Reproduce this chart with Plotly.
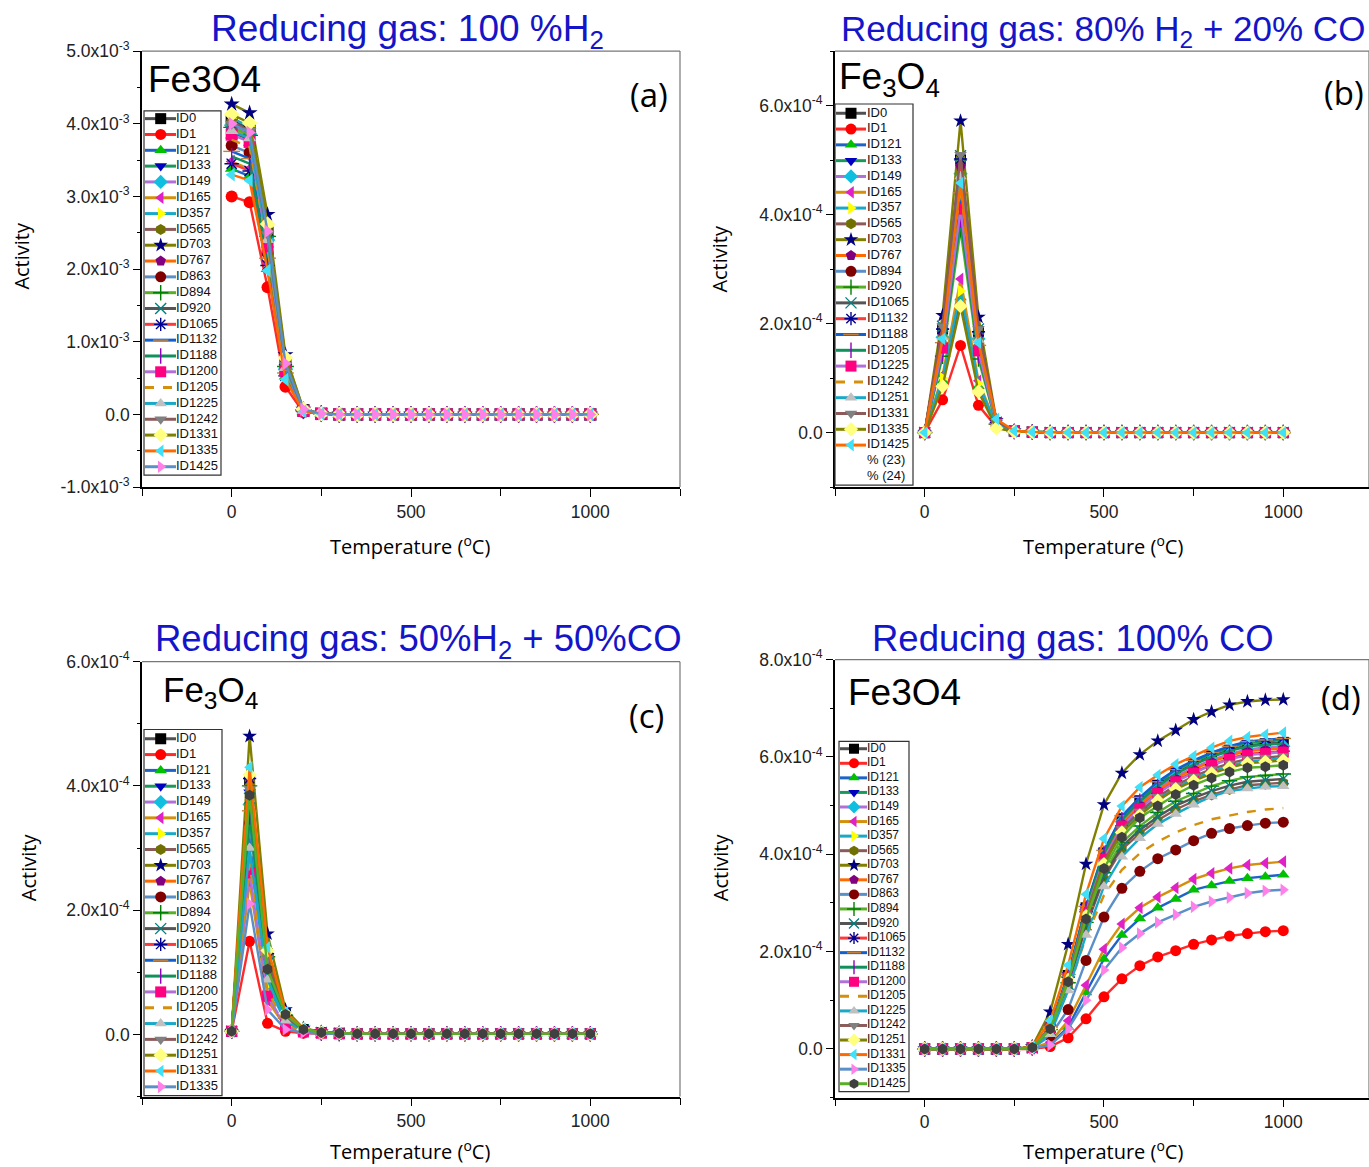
import plotly.graph_objects as go

W, H = 1369, 1167

# ---------------- data ----------------
TEMPERATURE_C = [0, 50, 100, 150, 200, 250, 300, 350, 400, 450, 500,
                 550, 600, 650, 700, 750, 800, 850, 900, 950, 1000]

NAMES_A = ["ID0", "ID1", "ID121", "ID133", "ID149", "ID165", "ID357", "ID565", "ID703",
           "ID767", "ID863", "ID894", "ID920", "ID1065", "ID1132", "ID1188", "ID1200",
           "ID1205", "ID1225", "ID1242", "ID1331", "ID1335", "ID1425"]
NAMES_B = ["ID0", "ID1", "ID121", "ID133", "ID149", "ID165", "ID357", "ID565", "ID703",
           "ID767", "ID894", "ID920", "ID1065", "ID1132", "ID1188", "ID1205", "ID1225",
           "ID1242", "ID1251", "ID1331", "ID1335", "ID1425"]
LEGEND_EXTRA_B = ["% (23)", "% (24)"]
NAMES_C = ["ID0", "ID1", "ID121", "ID133", "ID149", "ID165", "ID357", "ID565", "ID703",
           "ID767", "ID863", "ID894", "ID920", "ID1065", "ID1132", "ID1188", "ID1200",
           "ID1205", "ID1225", "ID1242", "ID1251", "ID1331", "ID1335", "ID1425"]
LEGEND_COUNT_C = 23
NAMES_D = ["ID0", "ID1", "ID121", "ID133", "ID149", "ID165", "ID357", "ID565", "ID703",
           "ID767", "ID863", "ID894", "ID920", "ID1065", "ID1132", "ID1188", "ID1200",
           "ID1205", "ID1225", "ID1242", "ID1251", "ID1331", "ID1335", "ID1425"]

# (a) 100% H2, activity in units of 1e-3
ACTIVITY_A_E3 = [
    [4.05, 3.93, 2.50, 0.68, 0.06, 0.01, 0, 0, 0, 0, 0, 0, 0, 0, 0, 0, 0, 0, 0, 0, 0],
    [3.00, 2.92, 1.75, 0.38, 0.03, 0.01, 0, 0, 0, 0, 0, 0, 0, 0, 0, 0, 0, 0, 0, 0, 0],
    [3.38, 3.28, 2.00, 0.52, 0.04, 0.01, 0, 0, 0, 0, 0, 0, 0, 0, 0, 0, 0, 0, 0, 0, 0],
    [3.95, 3.85, 2.42, 0.65, 0.05, 0.01, 0, 0, 0, 0, 0, 0, 0, 0, 0, 0, 0, 0, 0, 0, 0],
    [3.98, 3.86, 2.40, 0.62, 0.05, 0.01, 0, 0, 0, 0, 0, 0, 0, 0, 0, 0, 0, 0, 0, 0, 0],
    [3.48, 3.38, 2.08, 0.55, 0.05, 0.01, 0, 0, 0, 0, 0, 0, 0, 0, 0, 0, 0, 0, 0, 0, 0],
    [4.08, 3.96, 2.58, 0.74, 0.06, 0.01, 0, 0, 0, 0, 0, 0, 0, 0, 0, 0, 0, 0, 0, 0, 0],
    [4.02, 3.91, 2.52, 0.70, 0.06, 0.01, 0, 0, 0, 0, 0, 0, 0, 0, 0, 0, 0, 0, 0, 0, 0],
    [4.27, 4.15, 2.75, 0.82, 0.07, 0.01, 0, 0, 0, 0, 0, 0, 0, 0, 0, 0, 0, 0, 0, 0, 0],
    [3.92, 3.80, 2.35, 0.60, 0.05, 0.01, 0, 0, 0, 0, 0, 0, 0, 0, 0, 0, 0, 0, 0, 0, 0],
    [3.70, 3.60, 2.22, 0.58, 0.05, 0.01, 0, 0, 0, 0, 0, 0, 0, 0, 0, 0, 0, 0, 0, 0, 0],
    [3.95, 3.84, 2.45, 0.66, 0.06, 0.01, 0, 0, 0, 0, 0, 0, 0, 0, 0, 0, 0, 0, 0, 0, 0],
    [3.88, 3.78, 2.38, 0.63, 0.05, 0.01, 0, 0, 0, 0, 0, 0, 0, 0, 0, 0, 0, 0, 0, 0, 0],
    [3.45, 3.35, 2.05, 0.53, 0.04, 0.01, 0, 0, 0, 0, 0, 0, 0, 0, 0, 0, 0, 0, 0, 0, 0],
    [3.62, 3.52, 2.15, 0.57, 0.05, 0.01, 0, 0, 0, 0, 0, 0, 0, 0, 0, 0, 0, 0, 0, 0, 0],
    [3.55, 3.45, 2.12, 0.55, 0.05, 0.01, 0, 0, 0, 0, 0, 0, 0, 0, 0, 0, 0, 0, 0, 0, 0],
    [3.85, 3.75, 2.30, 0.60, 0.05, 0.01, 0, 0, 0, 0, 0, 0, 0, 0, 0, 0, 0, 0, 0, 0, 0],
    [3.78, 3.68, 2.28, 0.60, 0.05, 0.01, 0, 0, 0, 0, 0, 0, 0, 0, 0, 0, 0, 0, 0, 0, 0],
    [3.90, 3.80, 2.40, 0.64, 0.05, 0.01, 0, 0, 0, 0, 0, 0, 0, 0, 0, 0, 0, 0, 0, 0, 0],
    [4.00, 3.90, 2.48, 0.68, 0.06, 0.01, 0, 0, 0, 0, 0, 0, 0, 0, 0, 0, 0, 0, 0, 0, 0],
    [4.13, 4.01, 2.62, 0.78, 0.07, 0.01, 0, 0, 0, 0, 0, 0, 0, 0, 0, 0, 0, 0, 0, 0, 0],
    [3.30, 3.22, 1.98, 0.48, 0.04, 0.01, 0, 0, 0, 0, 0, 0, 0, 0, 0, 0, 0, 0, 0, 0, 0],
    [4.00, 3.88, 2.52, 0.70, 0.07, 0.01, 0, 0, 0, 0, 0, 0, 0, 0, 0, 0, 0, 0, 0, 0, 0],
]

# (b) 80% H2 + 20% CO, activity in units of 1e-4
ACTIVITY_B_E4 = [
    [0, 1.90, 5.00, 1.85, 0.18, 0.03, 0.01, 0, 0, 0, 0, 0, 0, 0, 0, 0, 0, 0, 0, 0, 0],
    [0, 0.60, 1.60, 0.50, 0.10, 0.02, 0.01, 0, 0, 0, 0, 0, 0, 0, 0, 0, 0, 0, 0, 0, 0],
    [0, 0.95, 2.48, 0.85, 0.12, 0.02, 0.01, 0, 0, 0, 0, 0, 0, 0, 0, 0, 0, 0, 0, 0, 0],
    [0, 1.85, 4.95, 1.80, 0.18, 0.03, 0.01, 0, 0, 0, 0, 0, 0, 0, 0, 0, 0, 0, 0, 0, 0],
    [0, 1.75, 4.75, 1.72, 0.17, 0.03, 0.01, 0, 0, 0, 0, 0, 0, 0, 0, 0, 0, 0, 0, 0, 0],
    [0, 1.05, 2.82, 0.95, 0.13, 0.02, 0.01, 0, 0, 0, 0, 0, 0, 0, 0, 0, 0, 0, 0, 0, 0],
    [0, 1.00, 2.60, 0.90, 0.12, 0.02, 0.01, 0, 0, 0, 0, 0, 0, 0, 0, 0, 0, 0, 0, 0, 0],
    [0, 1.88, 5.00, 1.85, 0.18, 0.03, 0.01, 0, 0, 0, 0, 0, 0, 0, 0, 0, 0, 0, 0, 0, 0],
    [0, 2.15, 5.72, 2.12, 0.22, 0.03, 0.01, 0, 0, 0, 0, 0, 0, 0, 0, 0, 0, 0, 0, 0, 0],
    [0, 1.82, 4.88, 1.78, 0.18, 0.03, 0.01, 0, 0, 0, 0, 0, 0, 0, 0, 0, 0, 0, 0, 0, 0],
    [0, 1.60, 4.30, 1.55, 0.16, 0.03, 0.01, 0, 0, 0, 0, 0, 0, 0, 0, 0, 0, 0, 0, 0, 0],
    [0, 1.40, 3.72, 1.35, 0.15, 0.02, 0.01, 0, 0, 0, 0, 0, 0, 0, 0, 0, 0, 0, 0, 0, 0],
    [0, 1.95, 5.08, 1.90, 0.19, 0.03, 0.01, 0, 0, 0, 0, 0, 0, 0, 0, 0, 0, 0, 0, 0, 0],
    [0, 1.90, 5.02, 1.85, 0.18, 0.03, 0.01, 0, 0, 0, 0, 0, 0, 0, 0, 0, 0, 0, 0, 0, 0],
    [0, 1.65, 4.40, 1.60, 0.16, 0.03, 0.01, 0, 0, 0, 0, 0, 0, 0, 0, 0, 0, 0, 0, 0, 0],
    [0, 1.45, 3.90, 1.42, 0.15, 0.02, 0.01, 0, 0, 0, 0, 0, 0, 0, 0, 0, 0, 0, 0, 0, 0],
    [0, 1.55, 4.10, 1.50, 0.16, 0.03, 0.01, 0, 0, 0, 0, 0, 0, 0, 0, 0, 0, 0, 0, 0, 0],
    [0, 1.70, 4.50, 1.65, 0.17, 0.03, 0.01, 0, 0, 0, 0, 0, 0, 0, 0, 0, 0, 0, 0, 0, 0],
    [0, 1.75, 4.70, 1.70, 0.17, 0.03, 0.01, 0, 0, 0, 0, 0, 0, 0, 0, 0, 0, 0, 0, 0, 0],
    [0, 1.95, 5.10, 1.90, 0.20, 0.03, 0.01, 0, 0, 0, 0, 0, 0, 0, 0, 0, 0, 0, 0, 0, 0],
    [0, 0.85, 2.32, 0.75, 0.08, 0.02, 0.01, 0, 0, 0, 0, 0, 0, 0, 0, 0, 0, 0, 0, 0, 0],
    [0, 1.72, 4.58, 1.65, 0.25, 0.03, 0.01, 0, 0, 0, 0, 0, 0, 0, 0, 0, 0, 0, 0, 0, 0],
]

# (c) 50% H2 + 50% CO, activity in units of 1e-4
ACTIVITY_C_E4 = [
    [0.05, 4.10, 1.30, 0.32, 0.08, 0.03, 0.02, 0.01, 0.01, 0.01, 0.01, 0.01, 0.01, 0.01, 0.01, 0.01, 0.01, 0.01, 0.01, 0.01, 0.01],
    [0.05, 1.50, 0.18, 0.05, 0.02, 0.01, 0.01, 0.01, 0.01, 0.01, 0.01, 0.01, 0.01, 0.01, 0.01, 0.01, 0.01, 0.01, 0.01, 0.01, 0.01],
    [0.05, 3.20, 0.90, 0.22, 0.06, 0.02, 0.01, 0.01, 0.01, 0.01, 0.01, 0.01, 0.01, 0.01, 0.01, 0.01, 0.01, 0.01, 0.01, 0.01, 0.01],
    [0.05, 3.90, 1.20, 0.30, 0.07, 0.03, 0.02, 0.01, 0.01, 0.01, 0.01, 0.01, 0.01, 0.01, 0.01, 0.01, 0.01, 0.01, 0.01, 0.01, 0.01],
    [0.05, 3.70, 1.10, 0.28, 0.07, 0.03, 0.02, 0.01, 0.01, 0.01, 0.01, 0.01, 0.01, 0.01, 0.01, 0.01, 0.01, 0.01, 0.01, 0.01, 0.01],
    [0.05, 2.45, 0.55, 0.12, 0.04, 0.02, 0.01, 0.01, 0.01, 0.01, 0.01, 0.01, 0.01, 0.01, 0.01, 0.01, 0.01, 0.01, 0.01, 0.01, 0.01],
    [0.05, 2.90, 0.80, 0.20, 0.05, 0.02, 0.01, 0.01, 0.01, 0.01, 0.01, 0.01, 0.01, 0.01, 0.01, 0.01, 0.01, 0.01, 0.01, 0.01, 0.01],
    [0.05, 4.05, 1.28, 0.32, 0.08, 0.03, 0.02, 0.01, 0.01, 0.01, 0.01, 0.01, 0.01, 0.01, 0.01, 0.01, 0.01, 0.01, 0.01, 0.01, 0.01],
    [0.05, 4.80, 1.62, 0.40, 0.10, 0.04, 0.02, 0.01, 0.01, 0.01, 0.01, 0.01, 0.01, 0.01, 0.01, 0.01, 0.01, 0.01, 0.01, 0.01, 0.01],
    [0.05, 4.15, 1.32, 0.33, 0.08, 0.03, 0.02, 0.01, 0.01, 0.01, 0.01, 0.01, 0.01, 0.01, 0.01, 0.01, 0.01, 0.01, 0.01, 0.01, 0.01],
    [0.05, 3.40, 0.98, 0.24, 0.06, 0.02, 0.01, 0.01, 0.01, 0.01, 0.01, 0.01, 0.01, 0.01, 0.01, 0.01, 0.01, 0.01, 0.01, 0.01, 0.01],
    [0.05, 4.00, 1.25, 0.31, 0.08, 0.03, 0.02, 0.01, 0.01, 0.01, 0.01, 0.01, 0.01, 0.01, 0.01, 0.01, 0.01, 0.01, 0.01, 0.01, 0.01],
    [0.05, 3.80, 1.15, 0.29, 0.07, 0.03, 0.02, 0.01, 0.01, 0.01, 0.01, 0.01, 0.01, 0.01, 0.01, 0.01, 0.01, 0.01, 0.01, 0.01, 0.01],
    [0.05, 4.12, 1.30, 0.32, 0.08, 0.03, 0.02, 0.01, 0.01, 0.01, 0.01, 0.01, 0.01, 0.01, 0.01, 0.01, 0.01, 0.01, 0.01, 0.01, 0.01],
    [0.05, 3.60, 1.05, 0.26, 0.06, 0.03, 0.02, 0.01, 0.01, 0.01, 0.01, 0.01, 0.01, 0.01, 0.01, 0.01, 0.01, 0.01, 0.01, 0.01, 0.01],
    [0.05, 3.50, 1.00, 0.25, 0.06, 0.02, 0.01, 0.01, 0.01, 0.01, 0.01, 0.01, 0.01, 0.01, 0.01, 0.01, 0.01, 0.01, 0.01, 0.01, 0.01],
    [0.05, 2.60, 0.62, 0.14, 0.04, 0.02, 0.01, 0.01, 0.01, 0.01, 0.01, 0.01, 0.01, 0.01, 0.01, 0.01, 0.01, 0.01, 0.01, 0.01, 0.01],
    [0.05, 2.75, 0.70, 0.17, 0.05, 0.02, 0.01, 0.01, 0.01, 0.01, 0.01, 0.01, 0.01, 0.01, 0.01, 0.01, 0.01, 0.01, 0.01, 0.01, 0.01],
    [0.05, 3.00, 0.88, 0.22, 0.06, 0.02, 0.01, 0.01, 0.01, 0.01, 0.01, 0.01, 0.01, 0.01, 0.01, 0.01, 0.01, 0.01, 0.01, 0.01, 0.01],
    [0.05, 3.95, 1.22, 0.30, 0.07, 0.03, 0.02, 0.01, 0.01, 0.01, 0.01, 0.01, 0.01, 0.01, 0.01, 0.01, 0.01, 0.01, 0.01, 0.01, 0.01],
    [0.05, 4.18, 1.35, 0.34, 0.08, 0.03, 0.02, 0.01, 0.01, 0.01, 0.01, 0.01, 0.01, 0.01, 0.01, 0.01, 0.01, 0.01, 0.01, 0.01, 0.01],
    [0.05, 4.30, 1.40, 0.36, 0.09, 0.03, 0.02, 0.01, 0.01, 0.01, 0.01, 0.01, 0.01, 0.01, 0.01, 0.01, 0.01, 0.01, 0.01, 0.01, 0.01],
    [0.05, 2.10, 0.40, 0.08, 0.03, 0.01, 0.01, 0.01, 0.01, 0.01, 0.01, 0.01, 0.01, 0.01, 0.01, 0.01, 0.01, 0.01, 0.01, 0.01, 0.01],
    [0.05, 3.85, 1.05, 0.32, 0.08, 0.03, 0.02, 0.01, 0.01, 0.01, 0.01, 0.01, 0.01, 0.01, 0.01, 0.01, 0.01, 0.01, 0.01, 0.01, 0.01],
]

# (d) 100% CO, activity in units of 1e-4
ACTIVITY_D_E4 = [
    [0, 0, 0, 0, 0, 0, 0.03, 0.44, 1.51, 2.90, 4.03, 4.73, 5.10, 5.42, 5.67, 5.86, 6.02, 6.14, 6.24, 6.27, 6.30],
    [0, 0, 0, 0, 0, 0, 0.00, 0.05, 0.23, 0.62, 1.07, 1.44, 1.71, 1.89, 2.02, 2.15, 2.24, 2.32, 2.37, 2.41, 2.43],
    [0, 0, 0, 0, 0, 0, 0.01, 0.10, 0.45, 1.16, 1.85, 2.34, 2.68, 2.90, 3.08, 3.27, 3.36, 3.45, 3.51, 3.54, 3.58],
    [0, 0, 0, 0, 0, 0, 0.03, 0.44, 1.52, 2.92, 4.06, 4.76, 5.14, 5.46, 5.72, 5.91, 6.06, 6.19, 6.29, 6.32, 6.35],
    [0, 0, 0, 0, 0, 0, 0.03, 0.44, 1.49, 2.86, 3.98, 4.67, 5.04, 5.35, 5.60, 5.78, 5.94, 6.06, 6.16, 6.19, 6.22],
    [0, 0, 0, 0, 0, 0, 0.01, 0.14, 0.58, 1.31, 2.05, 2.57, 2.90, 3.12, 3.31, 3.49, 3.61, 3.71, 3.78, 3.82, 3.85],
    [0, 0, 0, 0, 0, 0, 0.03, 0.42, 1.43, 2.75, 3.82, 4.48, 4.84, 5.13, 5.37, 5.55, 5.70, 5.82, 5.91, 5.94, 5.97],
    [0, 0, 0, 0, 0, 0, 0.02, 0.38, 1.31, 2.52, 3.50, 4.10, 4.43, 4.70, 4.92, 5.09, 5.22, 5.33, 5.42, 5.44, 5.47],
    [0, 0, 0, 0, 0, 0, 0.05, 0.76, 2.15, 3.80, 5.02, 5.67, 6.05, 6.33, 6.55, 6.77, 6.93, 7.07, 7.14, 7.17, 7.18],
    [0, 0, 0, 0, 0, 0, 0.03, 0.43, 1.48, 2.84, 3.96, 4.64, 5.01, 5.31, 5.56, 5.75, 5.90, 6.03, 6.12, 6.15, 6.18],
    [0, 0, 0, 0, 0, 0, 0.02, 0.27, 0.81, 1.82, 2.71, 3.30, 3.65, 3.91, 4.09, 4.28, 4.43, 4.53, 4.59, 4.64, 4.66],
    [0, 0, 0, 0, 0, 0, 0.02, 0.40, 1.36, 2.60, 3.62, 4.24, 4.58, 4.86, 5.09, 5.25, 5.40, 5.51, 5.59, 5.62, 5.65],
    [0, 0, 0, 0, 0, 0, 0.02, 0.39, 1.33, 2.55, 3.55, 4.16, 4.50, 4.77, 5.00, 5.16, 5.30, 5.41, 5.49, 5.52, 5.55],
    [0, 0, 0, 0, 0, 0, 0.03, 0.43, 1.47, 2.82, 3.92, 4.59, 4.96, 5.26, 5.51, 5.69, 5.84, 5.97, 6.06, 6.09, 6.12],
    [0, 0, 0, 0, 0, 0, 0.03, 0.45, 1.53, 2.93, 4.08, 4.79, 5.17, 5.49, 5.74, 5.93, 6.09, 6.22, 6.32, 6.35, 6.38],
    [0, 0, 0, 0, 0, 0, 0.03, 0.44, 1.50, 2.89, 4.02, 4.71, 5.09, 5.40, 5.65, 5.84, 6.00, 6.12, 6.22, 6.25, 6.28],
    [0, 0, 0, 0, 0, 0, 0.03, 0.43, 1.46, 2.81, 3.90, 4.58, 4.94, 5.25, 5.49, 5.67, 5.83, 5.95, 6.04, 6.07, 6.10],
    [0, 0, 0, 0, 0, 0, 0.02, 0.35, 1.20, 2.30, 3.16, 3.68, 4.02, 4.26, 4.45, 4.60, 4.72, 4.80, 4.87, 4.92, 4.95],
    [0, 0, 0, 0, 0, 0, 0.02, 0.30, 1.20, 2.34, 3.34, 3.95, 4.33, 4.62, 4.83, 5.02, 5.19, 5.30, 5.35, 5.39, 5.40],
    [0, 0, 0, 0, 0, 0, 0.03, 0.42, 1.44, 2.77, 3.85, 4.52, 4.88, 5.18, 5.42, 5.60, 5.75, 5.87, 5.96, 5.99, 6.02],
    [0, 0, 0, 0, 0, 0, 0.03, 0.42, 1.42, 2.73, 3.80, 4.45, 4.80, 5.10, 5.34, 5.51, 5.66, 5.78, 5.87, 5.90, 5.93],
    [0, 0, 0, 0, 0, 0, 0.04, 0.58, 1.72, 3.18, 4.32, 4.99, 5.38, 5.63, 5.85, 6.02, 6.19, 6.33, 6.41, 6.46, 6.50],
    [0, 0, 0, 0, 0, 0, 0.01, 0.08, 0.41, 1.00, 1.62, 2.08, 2.37, 2.60, 2.76, 2.92, 3.03, 3.11, 3.20, 3.25, 3.27],
    [0, 0, 0, 0, 0, 0, 0.03, 0.41, 1.38, 2.67, 3.71, 4.35, 4.75, 4.99, 5.23, 5.42, 5.57, 5.69, 5.78, 5.80, 5.83],
]

# tick labels
X_TICKS = [0, 500, 1000]
X_TICKTEXT = ["0", "500", "1000"]
X_MINOR = [-250, 250, 750, 1250]
A_YTICKS = [-1, 0, 1, 2, 3, 4, 5]
A_YTICKTEXT = ["-1.0x10<sup>-3</sup>", "0.0", "1.0x10<sup>-3</sup>", "2.0x10<sup>-3</sup>",
               "3.0x10<sup>-3</sup>", "4.0x10<sup>-3</sup>", "5.0x10<sup>-3</sup>"]
A_YMINOR = [-0.5, 0.5, 1.5, 2.5, 3.5, 4.5]
B_YTICKS = [0, 2, 4, 6]
B_YTICKTEXT = ["0.0", "2.0x10<sup>-4</sup>", "4.0x10<sup>-4</sup>", "6.0x10<sup>-4</sup>"]
B_YMINOR = [-1, 1, 3, 5, 7]
C_YTICKS = [0, 2, 4, 6]
C_YTICKTEXT = ["0.0", "2.0x10<sup>-4</sup>", "4.0x10<sup>-4</sup>", "6.0x10<sup>-4</sup>"]
C_YMINOR = [-1, 1, 3, 5]
D_YTICKS = [0, 2, 4, 6, 8]
D_YTICKTEXT = ["0.0", "2.0x10<sup>-4</sup>", "4.0x10<sup>-4</sup>", "6.0x10<sup>-4</sup>", "8.0x10<sup>-4</sup>"]
D_YMINOR = [-1, 1, 3, 5, 7]

# ---------------- styles (Origin-like order) ----------------
STYLES = [
    # line colour, symbol, marker colour, dash
    ("#505050", "square", "#000000", "solid"),
    ("#ff2a2a", "circle", "#ff0000", "solid"),
    ("#1e64c8", "triangle-up", "#00c000", "solid"),
    ("#1a9a5a", "triangle-down", "#0000c0", "solid"),
    ("#b070d8", "diamond", "#10bfe0", "solid"),
    ("#d4900c", "triangle-left", "#e020c8", "solid"),
    ("#1aa8c8", "triangle-right", "#ffff00", "solid"),
    ("#8b5a5a", "hexagon", "#707000", "solid"),
    ("#808000", "star", "#000080", "solid"),
    ("#ff6a00", "pentagon", "#800080", "solid"),
    ("#5b8fc8", "circle", "#800000", "solid"),
    ("#58b028", "cross-thin-open", "#008000", "solid"),
    ("#555555", "x-thin-open", "#008080", "solid"),
    ("#ff3a3a", "asterisk-open", "#000090", "solid"),
    ("#1060d0", "line-ew-open", "#c08040", "solid"),
    ("#10905a", "line-ns-open", "#9000c0", "solid"),
    ("#b070d8", "square", "#ff0080", "solid"),
    ("#d4900c", None, None, "dash"),
    ("#1aa8c8", "triangle-up", "#c0c0c0", "solid"),
    ("#8b5a5a", "triangle-down", "#808080", "solid"),
    ("#808000", "diamond", "#ffff80", "solid"),
    ("#ff6a00", "triangle-left", "#40e0f8", "solid"),
    ("#5b8fc8", "triangle-right", "#ff80e8", "solid"),
    ("#58b028", "hexagon", "#404040", "solid"),
]

FONT = "Liberation Sans, Arial, sans-serif"
FONT2 = "Open Sans, Liberation Sans, sans-serif"
BLUE = "#1414c8"

# vertical calibration of the photographed page (observed offset / scale)
Y_OFF = 10.8
Y_SCALE = 0.9835


def marker_spec(style, size):
    _, sym, mcol, _ = style
    if sym is None:
        return None
    if sym.endswith("-open"):
        return dict(symbol=sym, size=size, color=mcol, line=dict(color=mcol, width=1.4))
    return dict(symbol=sym, size=size, color=mcol, line=dict(width=0))


fig = go.Figure()

PANELS = [
    ("x", "y", NAMES_A, ACTIVITY_A_E3, 12),
    ("x2", "y2", NAMES_B, ACTIVITY_B_E4, 11),
    ("x3", "y3", NAMES_C, ACTIVITY_C_E4, 11),
    ("x4", "y4", NAMES_D, ACTIVITY_D_E4, 11),
]
for xa, ya, names, values, msize in PANELS:
    for i, (name, vals) in enumerate(zip(names, values)):
        st = STYLES[i]
        mk = marker_spec(st, msize)
        fig.add_trace(go.Scatter(
            x=TEMPERATURE_C, y=vals, name=name, xaxis=xa, yaxis=ya,
            mode="lines+markers" if mk else "lines",
            line=dict(color=st[0], width=2.4, dash=st[3]),
            marker=mk, showlegend=False, cliponaxis=False,
        ))

# ---------------- hand-drawn legends in pixel overlay axes ----------------
LEGENDS = [
    dict(labels=NAMES_A, box=(144, 110, 221, 475), first=117.7, step=15.86,
         line=(145, 176), mark=160.7, text=176, font=13, msize=11),
    dict(labels=NAMES_B + LEGEND_EXTRA_B, box=(835, 103, 913, 485), first=112.3, step=15.84,
         line=(836, 866), mark=851, text=867, font=13, msize=11),
    dict(labels=NAMES_C[:LEGEND_COUNT_C], box=(144, 730, 222, 1097), first=739.3, step=15.86,
         line=(145, 176), mark=160.7, text=176, font=13, msize=11),
    dict(labels=NAMES_D, box=(839, 742, 909, 1093), first=749.3, step=14.6,
         line=(840, 867), mark=854, text=867, font=12, msize=10),
]
shapes = []
for lg in LEGENDS:
    x0, y0, x1, y1 = lg["box"]
    shapes.append(dict(type="rect", xref="x5", yref="y5", x0=x0, y0=y0, x1=x1, y1=y1,
                       line=dict(color="#333333", width=1.2), fillcolor="rgba(0,0,0,0)",
                       layer="above"))
    ty = []
    for i, lab in enumerate(lg["labels"]):
        yy = lg["first"] + i * lg["step"]
        ty.append(yy)
        if lab.startswith("%"):
            continue
        st = STYLES[i]
        mk = marker_spec(st, lg["msize"])
        lx0, lx1 = lg["line"]
        fig.add_trace(go.Scatter(
            x=[lx0, lx1], y=[yy, yy], xaxis="x5", yaxis="y5", mode="lines",
            line=dict(color=st[0], width=3, dash="dash" if st[3] == "dash" else "solid"),
            showlegend=False, hoverinfo="skip", cliponaxis=False))
        if mk:
            fig.add_trace(go.Scatter(
                x=[lg["mark"]], y=[yy], xaxis="x5", yaxis="y5", mode="markers",
                marker=mk, showlegend=False, hoverinfo="skip", cliponaxis=False))
    fig.add_trace(go.Scatter(
        x=[lg["text"]] * len(lg["labels"]), y=ty, text=lg["labels"], xaxis="x5", yaxis="y5",
        mode="text", textposition="middle right",
        textfont=dict(family=FONT, size=lg["font"], color="#111111"),
        showlegend=False, hoverinfo="skip", cliponaxis=False))


def px(x):
    return x / W


def py(y):
    return 1 - ((y - Y_OFF) / Y_SCALE) / H


def xaxis(dom, rng, anchor):
    return dict(domain=[px(dom[0]), px(dom[1])], range=rng, anchor=anchor,
                tickvals=X_TICKS, ticktext=X_TICKTEXT,
                showline=True, linecolor="black", linewidth=1.6, ticks="outside",
                ticklen=8, tickwidth=1.4, tickcolor="black", showgrid=False, zeroline=False,
                tickfont=dict(family=FONT, size=17.5, color="#222222"),
                minor=dict(tickvals=X_MINOR, ticks="outside", ticklen=7, tickwidth=1.4,
                           tickcolor="black", showgrid=False),
                fixedrange=True)


def yaxis(dom, rng, anchor, tv, tt, mn):
    return dict(domain=[py(dom[1]), py(dom[0])], range=rng, anchor=anchor,
                tickvals=tv, ticktext=tt,
                showline=True, linecolor="black", linewidth=1.6, ticks="outside",
                ticklen=7, tickwidth=1.4, tickcolor="black", showgrid=False, zeroline=False,
                tickfont=dict(family=FONT, size=17.5, color="#222222"),
                minor=dict(tickvals=mn, ticks="outside", ticklen=3.5, tickwidth=1.2,
                           tickcolor="black", showgrid=False),
                fixedrange=True)


LEFT_X = (142, 680)
RIGHT_X = (835, 1369)
fig.update_layout(
    xaxis=xaxis(LEFT_X, [-250, 1250], "y"),
    yaxis=yaxis((50, 487), [-1, 5], "x", A_YTICKS, A_YTICKTEXT, A_YMINOR),
    xaxis2=xaxis(RIGHT_X, [-250, 1239], "y2"),
    yaxis2=yaxis((50, 487), [-1, 7], "x2", B_YTICKS, B_YTICKTEXT, B_YMINOR),
    xaxis3=xaxis(LEFT_X, [-250, 1250], "y3"),
    yaxis3=yaxis((662, 1098), [-1, 6], "x3", C_YTICKS, C_YTICKTEXT, C_YMINOR),
    xaxis4=xaxis(RIGHT_X, [-250, 1239], "y4"),
    yaxis4=yaxis((660, 1099), [-1, 8], "x4", D_YTICKS, D_YTICKTEXT, D_YMINOR),
    xaxis5=dict(domain=[0, 1], range=[0, W], anchor="y5", visible=False, fixedrange=True),
    yaxis5=dict(domain=[0, 1], range=[Y_OFF + Y_SCALE * H, Y_OFF], anchor="x5",
                visible=False, fixedrange=True),
)

# top / right frame lines
for xr, yr in [("x", "y"), ("x2", "y2"), ("x3", "y3"), ("x4", "y4")]:
    shapes.append(dict(type="line", xref=f"{xr} domain", yref=f"{yr} domain",
                       x0=0, x1=1, y0=1, y1=1, line=dict(color="#777777", width=1.2)))
    shapes.append(dict(type="line", xref=f"{xr} domain", yref=f"{yr} domain",
                       x0=1, x1=1, y0=0, y1=1, line=dict(color="#777777", width=1.2)))

annotations = []


def ann(text, x, y, size, color="black", family=FONT, xanchor="center", angle=0):
    annotations.append(dict(text=text, x=px(x), y=py(y), xref="paper", yref="paper",
                            xanchor=xanchor, yanchor="middle", showarrow=False,
                            textangle=angle, font=dict(family=family, size=size, color=color)))


ann("Reducing gas: 100 %H<sub>2</sub>", 407, 30, 37, BLUE)
ann("Reducing gas: 80% H<sub>2</sub> + 20% CO", 1367, 30, 35, BLUE, xanchor="right")
ann("Reducing gas: 50%H<sub>2</sub> + 50%CO", 418, 641, 36.5, BLUE)
ann("Reducing gas: 100% CO", 1073, 639, 36.5, BLUE)

ann("Fe3O4", 146, 78, 37, xanchor="left")
ann("Fe<sub>3</sub>O<sub>4</sub>", 837, 78, 37, xanchor="left")
ann("Fe<sub>3</sub>O<sub>4</sub>", 161, 692, 35, xanchor="left")
ann("Fe3O4", 846, 693, 37, xanchor="left")

ann("(a)", 649, 93, 33, family=FONT2)
ann("(b)", 1344, 91, 33, family=FONT2)
ann("(c)", 646, 716, 33, family=FONT2)
ann("(d)", 1341, 698, 33, family=FONT2)

ann("Activity", 22, 255, 20, family=FONT2, angle=-90)
ann("Activity", 720, 258, 20, family=FONT2, angle=-90)
ann("Activity", 28, 868, 20, family=FONT2, angle=-90)
ann("Activity", 720, 868, 20, family=FONT2, angle=-90)

ann("Temperature (<sup>o</sup>C)", 410, 546, 20, family=FONT2)
ann("Temperature (<sup>o</sup>C)", 1103, 546, 20, family=FONT2)
ann("Temperature (<sup>o</sup>C)", 410, 1152, 20, family=FONT2)
ann("Temperature (<sup>o</sup>C)", 1103, 1152, 20, family=FONT2)

fig.update_layout(
    width=W, height=H, autosize=False,
    margin=dict(l=0, r=0, t=0, b=0, pad=0),
    paper_bgcolor="white", plot_bgcolor="rgba(0,0,0,0)",
    showlegend=False, shapes=shapes, annotations=annotations,
)

fig.write_html(
    "out.html",
    config={"displayModeBar": False, "responsive": False},
    post_script="document.documentElement.style.margin='0';document.body.style.margin='0';"
                "document.body.style.padding='0';document.body.style.overflow='hidden';",
)
